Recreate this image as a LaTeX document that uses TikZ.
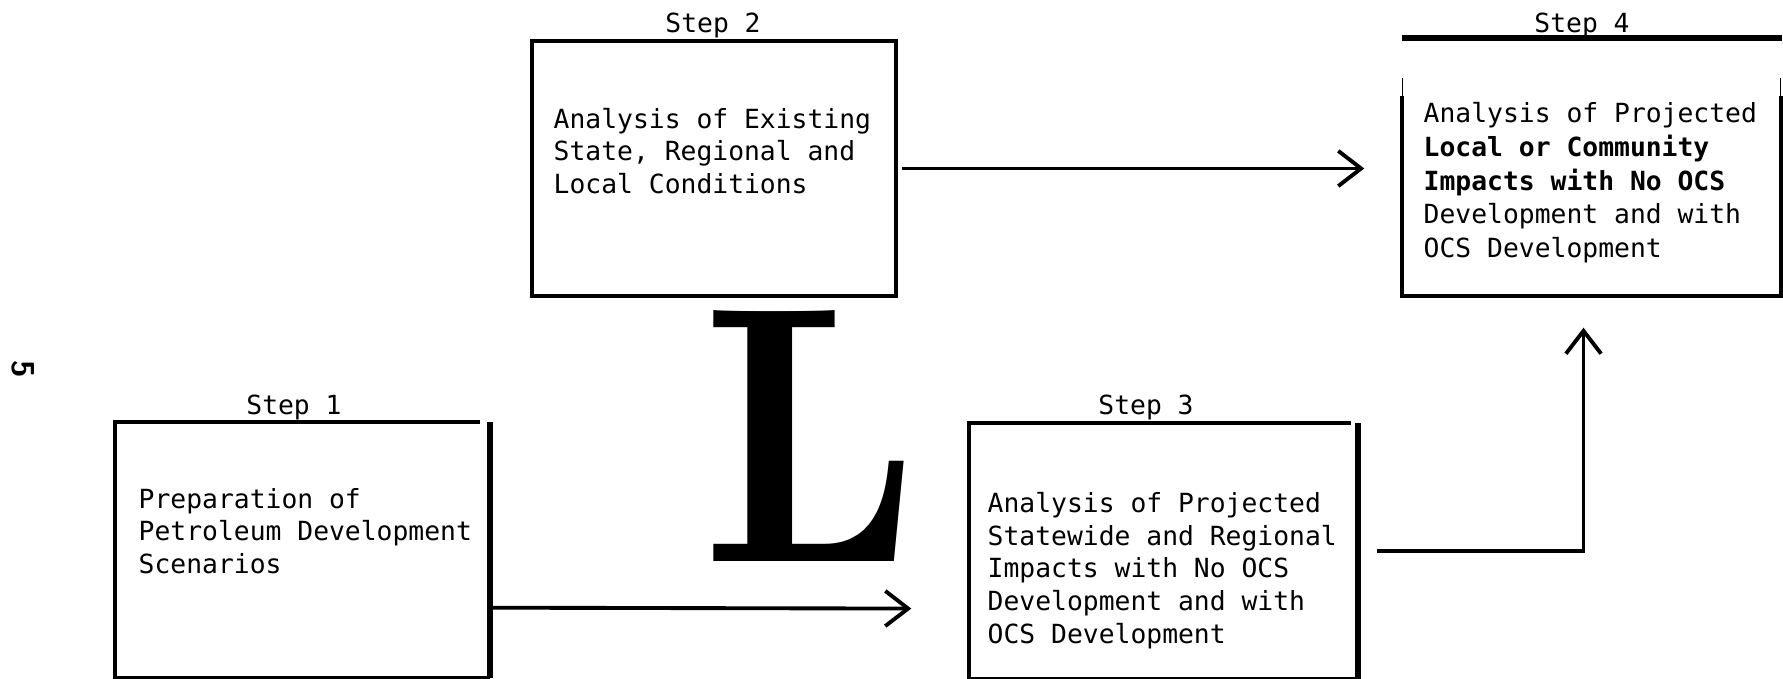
\documentclass[tikz,border=0pt]{standalone}
\usepackage{fontspec}
\setmonofont{DejaVu Sans Mono}
\usepackage{graphicx}
\usepackage{tikz}
\usetikzlibrary{arrows.meta,calc}

\tikzset{
  stepbox/.style={rectangle,inner sep=0pt},
  boxtext/.style={font=\fontsize{7.5}{9.3}\selectfont\ttfamily,align=left,anchor=base west,inner sep=0pt},
  steplabel/.style={font=\fontsize{7.5}{9}\selectfont\ttfamily,anchor=base,inner sep=0pt},
  edge/.style={line width=1.1pt},
  heavy/.style={line width=1.6pt},
  flow/.style={line width=1.1pt,-{Straight Barb[length=6.5pt,width=10pt]}}
}

\begin{document}
\begin{tikzpicture}
\useasboundingbox (0,0) rectangle (17.83,6.79);

% Boxes
\node[stepbox,minimum width=3.73cm,minimum height=2.54cm] (s1) at (3.025,1.29) {};
\node[stepbox,minimum width=3.62cm,minimum height=2.53cm] (s2) at (7.14,5.105) {};
\node[stepbox,minimum width=3.87cm,minimum height=2.54cm] (s3) at (11.635,1.28) {};
\node[stepbox,minimum width=3.77cm,minimum height=1.98cm] (s4) at (15.915,4.83) {};

\draw[edge] ([xshift=-0.1cm]s1.north east) -- (s1.north west) -- (s1.south west) -- (s1.south east);
\draw[heavy] (s1.north east) -- (s1.south east);
\draw[edge] (s2.north west) rectangle (s2.south east);
\draw[edge] ([xshift=-0.07cm]s3.north east) -- (s3.north west) -- (s3.south west) -- (s3.south east);
\draw[heavy] (s3.north east) -- (s3.south east);
\draw[edge] (s4.north west) -- (s4.south west) -- (s4.south east) -- (s4.north east);
\draw[heavy] ([yshift=0.58cm]s4.north west) -- ++(3.8,0);
\draw[line width=0.3pt] (s4.north west) -- ++(0,0.18);
\draw[line width=0.3pt] (s4.north east) -- ++(0,0.18);

% Titles
\node[steplabel] (h1) at (2.94,2.64) {Step 1};
\node[steplabel] (h2) at (7.13,6.46) {Step 2};
\node[steplabel] (h3) at (11.46,2.64) {Step 3};
\node[steplabel] (h4) at (15.82,6.46) {Step 4};

% Box texts (placed at the baseline of the last line)
\node[boxtext] (t1) at (1.38,1.054) {Preparation of\\Petroleum Development\\Scenarios};
\node[boxtext] (t2) at (5.53,4.854) {Analysis of Existing\\State, Regional and\\Local Conditions};
\node[boxtext] (t3) at (9.87,0.358) {Analysis of Projected\\Statewide and Regional\\Impacts with No OCS\\Development and with\\OCS Development};
\node[boxtext,font=\fontsize{7.5}{9.6}\selectfont\ttfamily] (t4) at (14.23,4.215) {Analysis of Projected\\\textbf{Local or Community}\\\textbf{Impacts with No OCS}\\Development and with\\OCS Development};

% Big letter and page number
\node[inner sep=0pt] (big) at (8.11,2.425) {\resizebox{2.18cm}{2.51cm}{\bfseries L}};
\node[rotate=-90,inner sep=0pt,font=\fontsize{9}{9}\selectfont\sffamily\bfseries] (pg) at (0.23,3.10) {5};

% Arrows
\draw[flow,shorten <=0.06cm,shorten >=0.38cm] (s2.east) -- (s2.east -| s4.west);
\draw[flow,shorten >=0.58cm] ($(s1.south east)+(0,0.70)$) -- ($(s3.south west)+(0,0.70)$);
\draw[flow,shorten <=0.19cm,shorten >=0.32cm] (s3.east) -| ([xshift=-0.08cm]s4.south);

\end{tikzpicture}
\end{document}
